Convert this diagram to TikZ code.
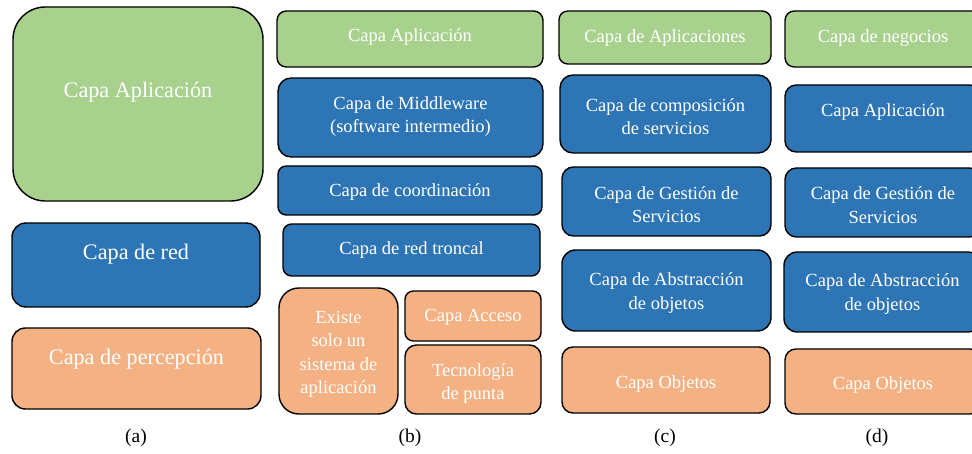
\documentclass[tikz,border=0pt]{standalone}
\usepackage{fontspec}
\setmainfont{Liberation Serif}
\definecolor{capagreen}{HTML}{A9D18E}
\definecolor{capablue}{HTML}{2E75B6}
\definecolor{capaorange}{HTML}{F4B183}
\tikzset{
  layerbox/.style={draw=black, line width=1.4pt, inner sep=0pt, outer sep=0pt},
  layertext/.style={text=white, align=center, inner sep=0pt,
    font=\fontsize{18.5}{23.5}\selectfont},
  bigtext/.style={layertext, font=\fontsize{22.2}{26}\selectfont},
  caption/.style={text=black, inner sep=0pt, font=\fontsize{19.5}{22}\selectfont}
}
% \layerbox{name}{x1}{y1}{x2}{y2}{fill}{text y}{text style}{text}
\newcommand{\layerbox}[9]{%
  \pgfmathsetmacro{\lbw}{#4-#2}%
  \pgfmathsetmacro{\lbh}{#5-#3}%
  \pgfmathsetmacro{\lbr}{min(\lbw,\lbh)/6}%
  \node[layerbox, fill=#6, minimum width=\lbw pt, minimum height=\lbh pt,
        rounded corners=\lbr pt] (#1) at ({(#2+#4)/2},{(#3+#5)/2}) {};
  \node[#8] (#1-text) at ({(#2+#4)/2},{#7+2}) {#9};
}
\begin{document}
\begin{tikzpicture}[x=1pt, y=-1pt]
\useasboundingbox (0,0) rectangle (972,454);
\begin{scope}
\clip (0,0) rectangle (972,454);
% (a)
\layerbox{aApp}{13}{7}{263}{201}{capagreen}{90}{bigtext}{Capa Aplicación}
\layerbox{aRed}{12}{223}{260}{307}{capablue}{252}{bigtext}{Capa de red}
\layerbox{aPer}{12}{328}{261}{409}{capaorange}{357}{bigtext}{Capa de percepción}
% (b)
\layerbox{bApp}{277}{11}{543}{67}{capagreen}{35}{layertext}{Capa Aplicación}
\layerbox{bMid}{278}{78}{543}{157}{capablue}{114.5}{layertext}{Capa de Middleware\\(software intermedio)}
\layerbox{bCoo}{278}{166}{542}{215}{capablue}{190}{layertext}{Capa de coordinación}
\layerbox{bTro}{283}{224}{540}{276}{capablue}{248}{layertext}{Capa de red troncal}
\layerbox{bExi}{279}{288}{398}{414}{capaorange}{352.5}{layertext}{Existe\\solo un\\sistema de\\aplicación}
\layerbox{bAcc}{405}{291}{541}{341}{capaorange}{315}{layertext}{Capa Acceso}
\layerbox{bTec}{405}{345}{541}{414}{capaorange}{381.5}{layertext}{Tecnología\\de punta}
% (c)
\layerbox{cApp}{559}{11}{771}{64}{capagreen}{36}{layertext}{Capa de Aplicaciones}
\layerbox{cCom}{560}{75}{771}{153}{capablue}{114.5}{layertext}{Capa de composición\\de servicios}
\layerbox{cGes}{562}{167}{771}{236}{capablue}{202.5}{layertext}{Capa de Gestión de\\Servicios}
\layerbox{cAbs}{562}{250}{771}{331}{capablue}{291}{layertext}{Capa de Abstracción\\de objetos}
\layerbox{cObj}{562}{347}{770}{413}{capaorange}{382}{layertext}{Capa Objetos}
% (d)
\layerbox{dNeg}{785}{11}{981}{67}{capagreen}{36}{layertext}{Capa de negocios}
\layerbox{dApp}{785}{85}{981}{152}{capablue}{110}{layertext}{Capa Aplicación}
\layerbox{dGes}{785}{168}{981}{237}{capablue}{203}{layertext}{Capa de Gestión de\\Servicios}
\layerbox{dAbs}{784}{252}{981}{332}{capablue}{292}{layertext}{Capa de Abstracción\\de objetos}
\layerbox{dObj}{785}{349}{981}{414}{capaorange}{383}{layertext}{Capa Objetos}
\end{scope}
% captions
\node[caption] (capA) at (136,438) {(a)};
\node[caption] (capB) at (410,438) {(b)};
\node[caption] (capC) at (665,438) {(c)};
\node[caption] (capD) at (877,438) {(d)};
\end{tikzpicture}
\end{document}
